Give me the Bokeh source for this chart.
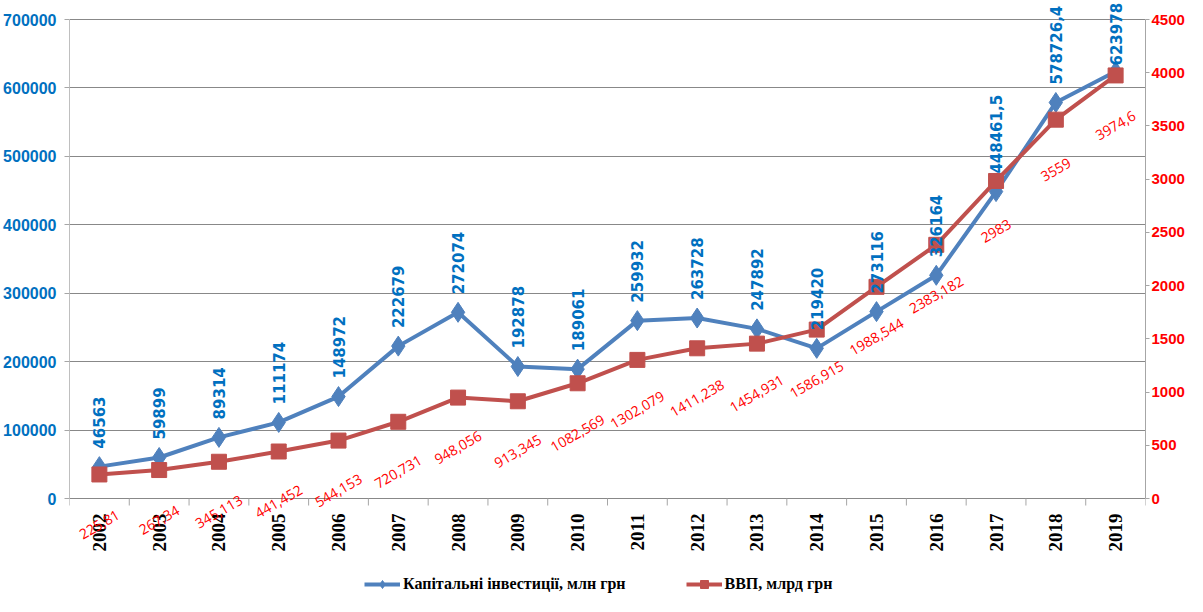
import math
from bokeh.plotting import figure
from bokeh.models import (Range1d, LinearAxis, FixedTicker, ColumnDataSource,
                          Legend, LegendItem, BasicTickFormatter)
from bokeh.core.properties import value
from bokeh.embed import file_html
from bokeh.resources import INLINE

# ---- data ----
years = [str(y) for y in range(2002, 2020)]
investments = [46563, 59899, 89314, 111174, 148972, 222679, 272074, 192878, 189061,
               259932, 263728, 247892, 219420, 273116, 326164, 448461.5, 578726.4, 623978]
gdp = [225.81, 267.34, 345.113, 441.452, 544.153, 720.731, 948.056, 913.345, 1082.569,
       1302.079, 1411.238, 1454.931, 1586.915, 1988.544, 2383.182, 2983, 3559, 3974.6]
left_ticks = [0, 100000, 200000, 300000, 400000, 500000, 600000, 700000]
right_ticks = [0, 500, 1000, 1500, 2000, 2500, 3000, 3500, 4000, 4500]
series_names = ["Капітальні інвестиції, млн грн", "ВВП, млрд грн"]

BLUE_LINE = "#4F81BD"
RED_LINE = "#C0504D"
BLUE_TEXT = "#0070C0"
RED_TEXT = "#FF0000"
GRID = "#888888"
AXIS = "#A6A6A6"

# ---- layout (pixels) ----
W, H = 1187, 596
TOP_PX, ZERO_PX = 19, 498          # where the top tick and the zero line sit
L_MAX, R_MAX = left_ticks[-1], right_ticks[-1]
k = (ZERO_PX - TOP_PX) / L_MAX     # pixels per unit on the left axis
y_top = L_MAX + TOP_PX / k
y_bot = -(H - ZERO_PX) / k
r_scale = R_MAX / L_MAX

n = len(years)
xs = [i + 0.5 for i in range(n)]
bounds = list(range(n + 1))


def fmt(v):
    return str(v).replace(".", ",")


inv_off = [-18] * n
inv_off[-1] = -6  # last label nudged down to stay inside the chart, as in the original

src = ColumnDataSource(dict(
    x=xs, inv=investments, gdp=gdp,
    inv_lbl=[fmt(v) for v in investments],
    gdp_lbl=[fmt(v) for v in gdp],
    inv_off=inv_off,
    zero=[0] * n, year=years,
))

p = figure(width=W, height=H, output_backend="svg", toolbar_location=None,
           x_range=Range1d(0, n), y_range=Range1d(y_bot, y_top),
           x_axis_location=None,
           min_border_left=67, min_border_right=38, min_border_top=0, min_border_bottom=0)
p.outline_line_color = None
p.background_fill_color = "white"
p.extra_y_ranges = {"gdp": Range1d(y_bot * r_scale, y_top * r_scale)}

# grid (the zero line doubles as the category axis line)
p.xgrid.visible = False
p.ygrid.ticker = FixedTicker(ticks=left_ticks)
p.ygrid.grid_line_color = GRID

# left axis
ya = p.yaxis[0]
ya.ticker = FixedTicker(ticks=left_ticks)
ya.bounds = (0, L_MAX)
ya.formatter = BasicTickFormatter(use_scientific=False)
ya.axis_line_color = "#BFBFBF"
ya.major_tick_line_color = AXIS
ya.major_tick_out = 5
ya.major_tick_in = 0
ya.minor_tick_line_color = None
ya.major_label_text_color = BLUE_TEXT
ya.major_label_text_font = "Liberation Sans"
ya.major_label_text_font_style = "bold"
ya.major_label_text_font_size = "16px"
ya.major_label_standoff = 8

# right axis
ra = LinearAxis(y_range_name="gdp", ticker=FixedTicker(ticks=right_ticks))
ra.bounds = (0, R_MAX)
ra.axis_line_color = AXIS
ra.major_tick_line_color = AXIS
ra.major_tick_out = 4
ra.major_tick_in = 0
ra.minor_tick_line_color = None
ra.major_label_text_color = RED_TEXT
ra.major_label_text_font = "Liberation Sans"
ra.major_label_text_font_style = "bold"
ra.major_label_text_font_size = "15px"
ra.major_label_standoff = 2
p.add_layout(ra, "right")

# category tick marks between years
p.ray(x=bounds, y=[0] * len(bounds), length=7, length_units="screen",
      angle=-math.pi / 2, line_color=AXIS, line_width=1)

# series
bl = p.line("x", "inv", source=src, line_color=BLUE_LINE, line_width=4)
bs = p.scatter("x", "inv", source=src, marker="diamond", size=20,
               fill_color=BLUE_LINE, line_color=BLUE_LINE)
rl = p.line("x", "gdp", source=src, y_range_name="gdp", line_color=RED_LINE, line_width=4)
rs = p.scatter("x", "gdp", source=src, y_range_name="gdp", marker="square", size=15,
               fill_color=RED_LINE, line_color=RED_LINE)

# year labels (category axis)
p.text(x="x", y="zero", text="year", source=src, angle=math.pi / 2,
       text_align="right", text_baseline="middle", y_offset=15,
       text_color="black", text_font=value("Liberation Serif"), text_font_style="bold",
       text_font_size="19px")

# data labels
p.text(x="x", y="inv", text="inv_lbl", source=src, angle=math.pi / 2,
       text_align="left", text_baseline="middle", y_offset="inv_off",
       text_color=BLUE_TEXT, text_font=value("DejaVu Sans"),
       text_font_style="bold", text_font_size="15px")
p.text(x="x", y="gdp", y_range_name="gdp", text="gdp_lbl", source=src,
       angle=math.radians(30), text_align="center", text_baseline="middle",
       y_offset=50, text_color=RED_TEXT, text_font=value("Open Sans"),
       text_font_size="14px")

legend = Legend(items=[LegendItem(label=series_names[0], renderers=[bl, bs]),
                       LegendItem(label=series_names[1], renderers=[rl, rs])],
                orientation="horizontal", location=(295, 2),
                border_line_color=None, background_fill_alpha=0,
                spacing=60, glyph_width=36, glyph_height=20, label_standoff=3,
                padding=0, margin=0,
                label_text_font="Liberation Serif", label_text_font_style="bold",
                label_text_font_size="16px", label_text_color="black")
p.add_layout(legend)

open("out.html", "w").write(file_html(p, INLINE))
